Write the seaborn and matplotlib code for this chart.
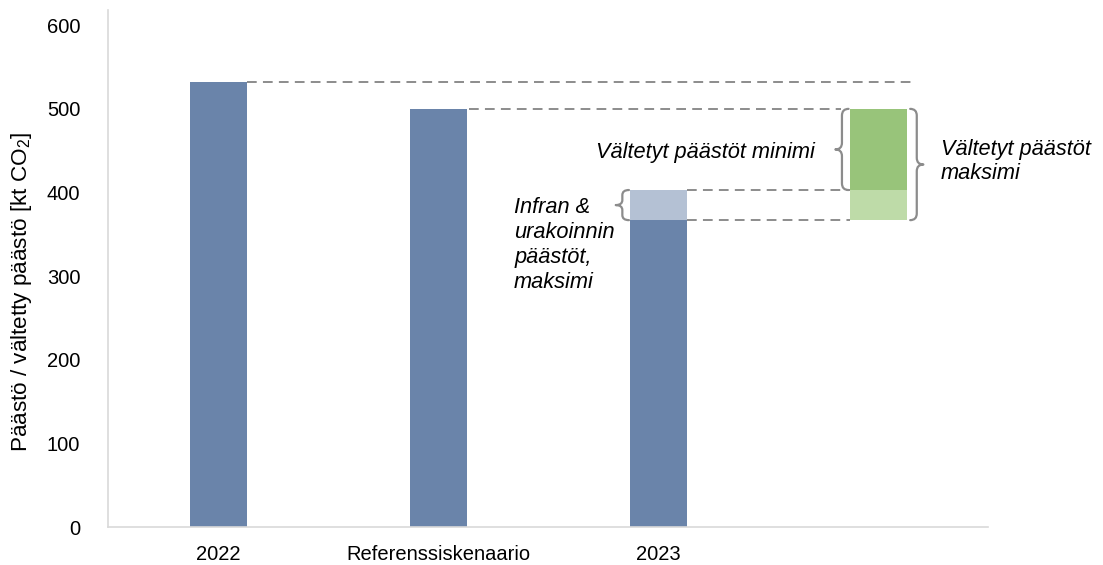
import numpy as np
import pandas as pd
import matplotlib
matplotlib.use("Agg")
import matplotlib.pyplot as plt
from matplotlib.path import Path
from matplotlib.patches import PathPatch
import seaborn as sns

# Emissions data [kt CO2]
categories = ["2022", "Referenssiskenaario", "2023"]
emissions = [532, 500, 367]
infra_max = 36            # infrastructure & contracting emissions on top of 2023
avoided_top = 500         # reference scenario level
avoided_min_base = 403    # 2023 incl. infra emissions
avoided_max_base = 367    # 2023 excl. infra emissions

blue = "#6a84aa"
light_blue = "#b4c1d4"
green = "#98c47a"
light_green = "#bedba8"
dash_col = "#8c8c8c"
brace_col = "#8c8c8c"

sns.set_theme(style="white")
plt.rcParams["font.family"] = ["Liberation Sans", "DejaVu Sans"]
plt.rcParams["mathtext.fontset"] = "custom"
plt.rcParams["mathtext.rm"] = "Liberation Sans"
plt.rcParams["mathtext.it"] = "Liberation Sans:italic"

fig = plt.figure(figsize=(11.03, 5.65), dpi=100)
ax = fig.add_axes([0.098, 0.067, 0.798, 0.915])

df = pd.DataFrame({"cat": categories, "val": emissions})
sns.barplot(data=df, x="cat", y="val", color=blue, saturation=1, width=0.26,
            linewidth=0, ax=ax)

w = 0.26
# infra emissions stacked on 2023
ax.bar(2, infra_max, bottom=emissions[2], width=w, color=light_blue, linewidth=0)
# avoided emissions, floating bar
ax.bar(3, avoided_min_base - avoided_max_base, bottom=avoided_max_base, width=w,
       color=light_green, linewidth=0)
ax.bar(3, avoided_top - avoided_min_base, bottom=avoided_min_base, width=w,
       color=green, linewidth=0)

ax.set_xlim(-0.5, 3.5)
ax.set_ylim(0, 618)
ax.set_yticks([0, 100, 200, 300, 400, 500, 600])
ax.set_xticks([0, 1, 2])
ax.set_xticklabels(categories)
ax.tick_params(axis="both", length=0, labelsize=14.5, colors="black")
ax.tick_params(axis="y", pad=20)
ax.tick_params(axis="x", pad=13)
ax.set_xlabel("")
ax.set_ylabel(r"Päästö / vältetty päästö [kt CO$_2$]", fontsize=16.2, color="black")
ax.yaxis.set_label_coords(-0.084, 0.455)
for s in ["top", "right"]:
    ax.spines[s].set_visible(False)
for s in ["left", "bottom"]:
    ax.spines[s].set_color("#d9d9d9")
    ax.spines[s].set_linewidth(1.2)

# dashed guide lines
dash = dict(color=dash_col, lw=1.4, ls=(0, (5, 3.2)))
ax.plot([0 + w / 2, 3.17], [emissions[0]] * 2, **dash)
ax.plot([1 + w / 2 + 0.01, 3 - w / 2 - 0.04], [avoided_top] * 2, **dash)
ax.plot([2 + w / 2, 3 - w / 2], [avoided_min_base] * 2, **dash)
ax.plot([2 + w / 2, 3 - w / 2], [avoided_max_base] * 2, **dash)


def brace(x, y0, y1, depth, r, facing):
    """Curly brace with its spine at x; facing=-1 points left, +1 points right."""
    d = facing * depth
    ym = (y0 + y1) / 2
    verts = [
        (x - d, y1), (x, y1), (x, y1 - r),
        (x, ym + r), (x, ym), (x + d, ym),
        (x, ym), (x, ym - r),
        (x, y0 + r), (x, y0), (x - d, y0),
    ]
    codes = [
        Path.MOVETO, Path.CURVE3, Path.CURVE3,
        Path.LINETO, Path.CURVE3, Path.CURVE3,
        Path.CURVE3, Path.CURVE3,
        Path.LINETO, Path.CURVE3, Path.CURVE3,
    ]
    ax.add_patch(PathPatch(Path(verts, codes), fill=False, ec=brace_col, lw=1.6,
                           capstyle="round", joinstyle="round"))


brace(2 - w / 2 - 0.033, avoided_max_base, avoided_min_base, 0.03, 6, -1)
brace(3 - w / 2 - 0.035, avoided_min_base, avoided_top, 0.03, 8, -1)
brace(3 + w / 2 + 0.045, avoided_max_base, avoided_top, 0.03, 8, +1)

txt = dict(fontsize=15.7, style="italic", color="black")
ax.text(2.714, 448, "Vältetyt päästöt minimi", ha="right", va="center", **txt)
ax.text(3.285, 437, "Vältetyt päästöt\nmaksimi", ha="left", va="center",
        linespacing=1.22, **txt)
ax.text(1.345, 337, "Infran &\nurakoinnin\npäästöt,\nmaksimi", ha="left", va="center",
        linespacing=1.24, **txt)

fig.savefig("out.png", dpi=100)
